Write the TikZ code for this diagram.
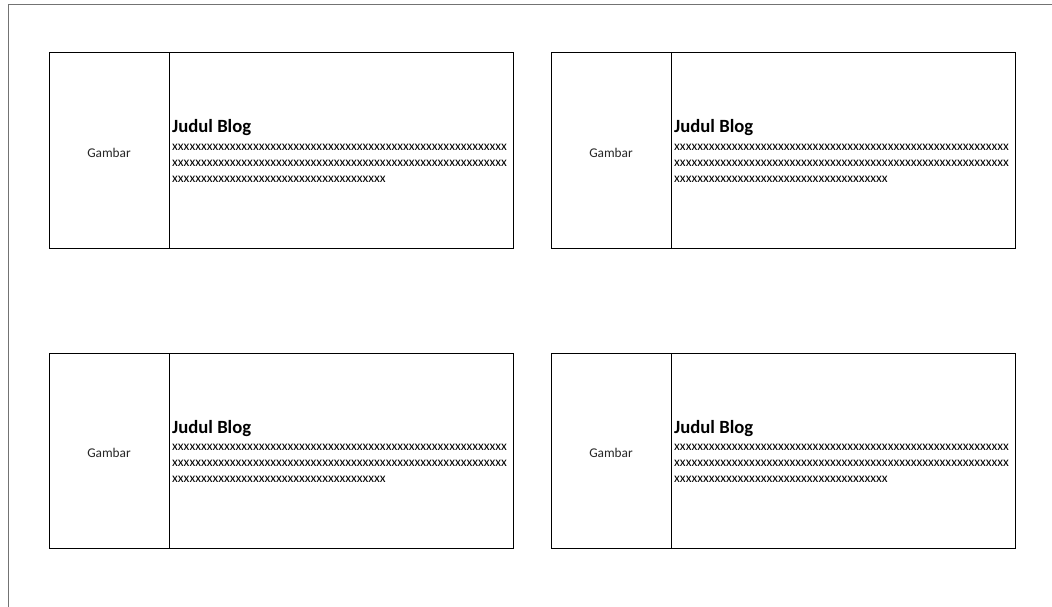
\documentclass[tikz,border=0pt]{standalone}
\usepackage{fontspec}
\setmainfont{Carlito}
\newcommand\xa{xxxxxxxxxxxxxxxxxxxxxxxxxxxxxxxxxxxxxxxxxxxxxxxxxxxxxxxxxx}
\newcommand\xb{xxxxxxxxxxxxxxxxxxxxxxxxxxxxxxxxxxxxx}
\newcommand\blogcard[3]{%
  % #1 name, #2 left x, #3 top y
  \node[cardbox, minimum width=120pt, minimum height=195pt, anchor=north west] (#1img) at (#2,#3) {};
  \node[cardbox, minimum width=344pt, minimum height=195pt, anchor=north west] (#1body) at (#1img.north east) {};
  \node[gambar] (#1lbl) at ([yshift=-2pt]#1img.center) {Gambar};
  \node[titletext] (#1title) at ([xshift=3pt,yshift=-80pt]#1body.north west) {Judul Blog};
  \node[bodytext] (#1l1) at ([yshift=-17pt]#1title.base west) {\xa};
  \node[bodytext] (#1l2) at ([yshift=-16.4pt]#1l1.base west) {\xa};
  \node[bodytext] (#1l3) at ([yshift=-16.4pt]#1l2.base west) {\xb};
}
\tikzset{
  cardbox/.style={draw=black, line width=1pt, inner sep=0pt, outer sep=0pt, fill=white},
  gambar/.style={inner sep=0pt, font=\fontsize{13.33}{16}\selectfont, text=black!85},
  titletext/.style={inner sep=0pt, anchor=base west, font=\fontsize{18.67}{22}\selectfont\bfseries},
  bodytext/.style={inner sep=0pt, anchor=base west, font=\fontsize{13.33}{16}\selectfont},
  frame/.style={draw=black!55, line width=1.5pt}
}
\begin{document}
\begin{tikzpicture}[x=1pt,y=-1pt]
\useasboundingbox (0,0) rectangle (1052,607);
\coordinate (ftr) at (1052,4.5);
\coordinate (ftl) at (8.5,4.5);
\coordinate (fbl) at (8.5,607);
\draw[frame] (ftr) -- (ftl) -- (fbl);
\blogcard{a}{49}{53}
\blogcard{b}{551}{53}
\blogcard{c}{49}{353}
\blogcard{d}{551}{353}
\end{tikzpicture}
\end{document}
